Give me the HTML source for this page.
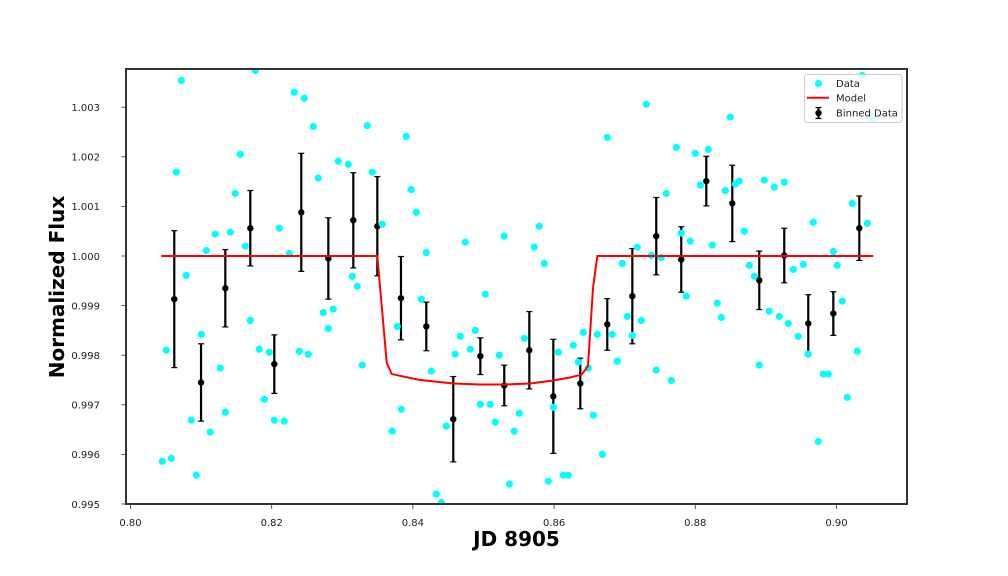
<!DOCTYPE html>
<html lang="en">
<head>
<meta charset="utf-8">
<title>Normalized Flux vs JD 8905</title>
<style>
html,body{margin:0;padding:0;background:#fff;width:1008px;height:576px;overflow:hidden}
svg{display:block}
text{font-family:"DejaVu Sans","Liberation Sans",sans-serif}
</style>
</head>
<body>
<svg id="chart" xmlns="http://www.w3.org/2000/svg" width="1008" height="576" viewBox="0 0 1008 576">
  <defs>
    <clipPath id="plot-clip"><rect x="126" y="69" width="781" height="435"/></clipPath>
  </defs>
  <rect x="0" y="0" width="1008" height="576" fill="#fff"/>
  <g id="errorbars" clip-path="url(#plot-clip)"></g>
  <g id="scatter" clip-path="url(#plot-clip)"></g>
  <g id="model" clip-path="url(#plot-clip)"></g>
  <g id="x-ticks"></g>
  <g id="y-ticks"></g>
  <rect x="126" y="69" width="781" height="435" fill="none" stroke="#333" stroke-width="2"/>
  <text x="516.5" y="546" text-anchor="middle" font-size="20" font-weight="bold" fill="#000">JD 8905</text>
  <text transform="translate(64,287) rotate(-90)" text-anchor="middle" font-size="20" font-weight="bold" fill="#000">Normalized Flux</text>
  <g>
    <rect x="804.5" y="74.5" width="97.5" height="48" rx="2.5" fill="#fff" fill-opacity="0.8" stroke="#ccc" stroke-width="1"/>
    <circle cx="818.5" cy="83.5" r="3.6" fill="#00ffff"/>
    <text x="836" y="87" font-size="10" fill="#222">Data</text>
    <line x1="807" y1="97.7" x2="829" y2="97.7" stroke="#ff0000" stroke-width="2"/>
    <text x="836" y="101.5" font-size="10" fill="#222">Model</text>
    <line x1="818.5" y1="107.5" x2="818.5" y2="118.5" stroke="#000" stroke-width="2.2"/>
    <line x1="815.5" y1="107.5" x2="821.5" y2="107.5" stroke="#000" stroke-width="1.2"/>
    <line x1="815.5" y1="118.5" x2="821.5" y2="118.5" stroke="#000" stroke-width="1.2"/>
    <circle cx="818.5" cy="113" r="3.2" fill="#000"/>
    <text x="836" y="116.5" font-size="10" fill="#222">Binned Data</text>
  </g>
</svg>
<script>
var dataTime = [0.80450,0.80507,0.80578,0.80649,0.80720,0.80790,0.80861,0.80932,0.81003,0.81074,0.81130,0.81201,0.81272,0.81343,0.81414,0.81484,0.81555,0.81626,0.81697,0.81768,0.81824,0.81895,0.81966,0.82037,0.82108,0.82178,0.82249,0.82320,0.82391,0.82462,0.82518,0.82589,0.82660,0.82731,0.82802,0.82872,0.82943,0.83085,0.83142,0.83212,0.83283,0.83354,0.83425,0.83566,0.83708,0.83779,0.83836,0.83906,0.83977,0.84048,0.84119,0.84190,0.84261,0.84331,0.84402,0.84473,0.84600,0.84671,0.84742,0.84813,0.84884,0.84955,0.85025,0.85096,0.85167,0.85224,0.85294,0.85365,0.85436,0.85507,0.85578,0.85719,0.85790,0.85861,0.85918,0.85989,0.86059,0.86130,0.86201,0.86272,0.86343,0.86413,0.86484,0.86555,0.86612,0.86683,0.86753,0.86824,0.86895,0.86966,0.87037,0.87108,0.87178,0.87235,0.87306,0.87377,0.87447,0.87518,0.87589,0.87660,0.87731,0.87801,0.87872,0.87929,0.88000,0.88071,0.88184,0.88241,0.88311,0.88368,0.88425,0.88496,0.88566,0.88623,0.88694,0.88765,0.88836,0.88906,0.88977,0.89048,0.89119,0.89190,0.89260,0.89317,0.89388,0.89459,0.89530,0.89600,0.89671,0.89742,0.89813,0.89884,0.89955,0.90011,0.90082,0.90153,0.90224,0.90294,0.90365,0.90436,0.90507];
var dataFlux = [0.99586,0.99810,0.99592,1.00169,1.00354,0.99961,0.99669,0.99558,0.99842,1.00011,0.99645,1.00044,0.99774,0.99685,1.00048,1.00126,1.00205,1.00020,0.99870,1.00374,0.99812,0.99711,0.99806,0.99669,1.00056,0.99667,1.00005,1.00330,0.99808,1.00318,0.99802,1.00261,1.00157,0.99886,0.99854,0.99893,1.00191,1.00185,0.99959,0.99939,0.99780,1.00263,1.00169,1.00064,0.99647,0.99858,0.99691,1.00241,1.00134,1.00088,0.99913,1.00007,0.99768,0.99520,0.99503,0.99657,0.99802,0.99838,1.00028,0.99812,0.99850,0.99701,0.99923,0.99701,0.99665,0.99800,1.00040,0.99540,0.99647,0.99683,0.99834,1.00018,1.00060,0.99985,0.99546,0.99695,0.99806,0.99558,0.99558,0.99820,0.99786,0.99846,0.99774,0.99679,0.99842,0.99600,1.00239,0.99842,0.99788,0.99985,0.99878,0.99840,1.00018,0.99870,1.00306,1.00001,0.99770,0.99997,1.00126,0.99749,1.00219,1.00046,0.99919,1.00030,1.00207,1.00143,1.00215,1.00022,0.99905,0.99876,1.00132,1.00280,1.00145,1.00151,1.00050,0.99981,0.99959,0.99780,1.00153,0.99889,1.00139,0.99878,1.00149,0.99864,0.99973,0.99838,0.99983,0.99802,1.00068,0.99626,0.99762,0.99762,1.00009,0.99981,0.99909,0.99715,1.00106,0.99808,1.00364,1.00066,1.00278];
var binTime = [0.80620,0.80999,0.81343,0.81697,0.82037,0.82419,0.82802,0.83156,0.83496,0.83831,0.84190,0.84572,0.84955,0.85294,0.85649,0.85989,0.86371,0.86753,0.87108,0.87447,0.87801,0.88156,0.88524,0.88906,0.89260,0.89600,0.89955,0.90323];
var binFlux = [0.99913,0.99745,0.99935,1.00056,0.99782,1.00088,0.99995,1.00072,1.00060,0.99915,0.99858,0.99671,0.99798,0.99739,0.99810,0.99717,0.99743,0.99862,0.99919,1.00040,0.99993,1.00151,1.00106,0.99951,1.00001,0.99864,0.99884,1.00056];
var binError = [0.00138,0.00078,0.00078,0.00076,0.00059,0.00119,0.00082,0.00096,0.00100,0.00084,0.00049,0.00086,0.00037,0.00041,0.00078,0.00115,0.00051,0.00052,0.00096,0.00078,0.00066,0.00050,0.00077,0.00059,0.00055,0.00058,0.00044,0.00065];
var modelTime = [0.80450,0.83496,0.83629,0.83700,0.84100,0.84572,0.84950,0.85294,0.85659,0.85989,0.86225,0.86391,0.86480,0.86551,0.86612,0.90507];
var modelFlux = [1.00000,1.00000,0.99785,0.99762,0.99750,0.99743,0.99741,0.99741,0.99743,0.99749,0.99755,0.99761,0.99778,0.99935,1.00000,1.00000];
var xTickValues = [0.80,0.82,0.84,0.86,0.88,0.90];
var xTickLabels = ["0.80","0.82","0.84","0.86","0.88","0.90"];
var yTickValues = [0.995,0.996,0.997,0.998,0.999,1.000,1.001,1.002,1.003];
var yTickLabels = ["0.995","0.996","0.997","0.998","0.999","1.000","1.001","1.002","1.003"];

var NS = "http://www.w3.org/2000/svg";
function xScale(v){ return 130.5 + (v - 0.80) * 7060; }
function yScale(v){ return 256 - (v - 1.0) * 49600; }
function makeLine(x1, y1, x2, y2, stroke, width){
  var l = document.createElementNS(NS, "line");
  l.setAttribute("x1", x1);
  l.setAttribute("y1", y1);
  l.setAttribute("x2", x2);
  l.setAttribute("y2", y2);
  l.setAttribute("stroke", stroke);
  l.setAttribute("stroke-width", width);
  return l;
}

var errGroup = document.getElementById("errorbars");
binTime.forEach(function(t, i){
  var cx = xScale(t);
  var yTop = yScale(binFlux[i] + binError[i]);
  var yBot = yScale(binFlux[i] - binError[i]);
  var bar = makeLine(cx, yTop, cx, yBot, "#000", 2.2);
  
  
  errGroup.appendChild(bar);
  var capTop = makeLine(cx - 3, yTop, cx + 3, yTop, "#000", 1.2);
  
  
  errGroup.appendChild(capTop);
  var capBot = makeLine(cx - 3, yBot, cx + 3, yBot, "#000", 1.2);
  
  
  errGroup.appendChild(capBot);
  var dot = document.createElementNS(NS, "circle");
  dot.setAttribute("cx", cx);
  dot.setAttribute("cy", yScale(binFlux[i]));
  dot.setAttribute("r", 3.2);
  dot.setAttribute("fill", "#000");
  
  
  errGroup.appendChild(dot);
});

var scatterGroup = document.getElementById("scatter");
dataTime.forEach(function(t, i){
  var c = document.createElementNS(NS, "circle");
  c.setAttribute("cx", xScale(t));
  c.setAttribute("cy", yScale(dataFlux[i]));
  c.setAttribute("r", 3.6);
  c.setAttribute("fill", "#00ffff");
  
  
  scatterGroup.appendChild(c);
});

var modelPath = document.createElementNS(NS, "polyline");
modelPath.setAttribute("points", modelTime.map(function(t, i){
  return xScale(t).toFixed(2) + "," + yScale(modelFlux[i]).toFixed(2);
}).join(" "));
modelPath.setAttribute("fill", "none");
modelPath.setAttribute("stroke", "#ff0000");
modelPath.setAttribute("stroke-width", 2);
modelPath.setAttribute("stroke-linecap", "square");


document.getElementById("model").appendChild(modelPath);

var xTickGroup = document.getElementById("x-ticks");
xTickValues.forEach(function(v, i){
  var px = xScale(v);
  var mark = makeLine(px, 504, px, 509, "#333", 0.8);
  
  
  xTickGroup.appendChild(mark);
  var label = document.createElementNS(NS, "text");
  label.setAttribute("x", px);
  label.setAttribute("y", 526);
  label.setAttribute("text-anchor", "middle");
  label.setAttribute("font-size", 10);
  label.setAttribute("fill", "#222");
  label.textContent = xTickLabels[i];
  
  
  xTickGroup.appendChild(label);
});

var yTickGroup = document.getElementById("y-ticks");
yTickValues.forEach(function(v, i){
  var py = yScale(v);
  var mark = makeLine(121.5, py, 126, py, "#333", 0.8);
  
  
  yTickGroup.appendChild(mark);
  var label = document.createElementNS(NS, "text");
  label.setAttribute("x", 100);
  label.setAttribute("y", py + 3.8);
  label.setAttribute("text-anchor", "end");
  label.setAttribute("font-size", 10);
  label.setAttribute("fill", "#222");
  label.textContent = yTickLabels[i];
  
  
  yTickGroup.appendChild(label);
});
</script>
</body>
</html>
